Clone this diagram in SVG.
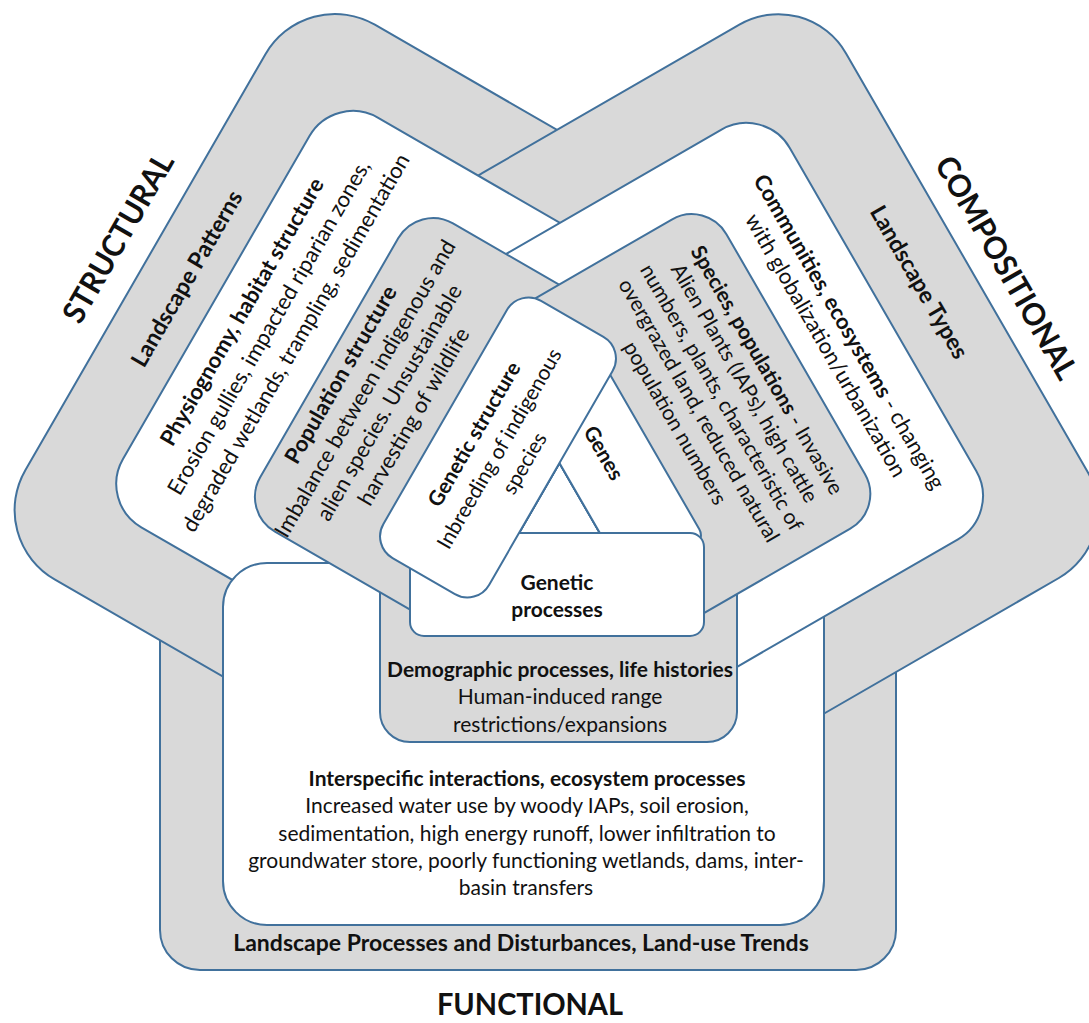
<svg xmlns="http://www.w3.org/2000/svg" width="1089" height="1023" viewBox="0 0 1089 1023">
  <style>
    .g { fill: #d9d9d9; stroke: #41719c; stroke-width: 2; }
    .w { fill: #ffffff; stroke: #41719c; stroke-width: 2; }
    text { font-family: Lato, "Liberation Sans", sans-serif; fill: #111; text-anchor: middle; }
    .b { font-weight: bold; }
    .t { font-size: 21px; }
    .r { font-size: 22px; }
    .h { font-size: 31px; font-weight: bold; }
    .l { font-size: 23px; font-weight: bold; }
  </style>
  <rect width="1089" height="1023" fill="#ffffff"/>

  <!-- Level 1: outer bands -->
  <g id="functional-landscape">
    <rect class="g" x="160" y="560" width="736" height="410" rx="40"/>
    <text class="l" x="521" y="951">Landscape Processes and Disturbances, Land-use Trends</text>
    <text class="h" x="530" y="1015" textLength="186" lengthAdjust="spacingAndGlyphs">FUNCTIONAL</text>
  </g>
  <g id="structural-landscape" transform="rotate(-60)">
    <rect class="g" x="-474.5" y="257" width="640.5" height="459" rx="80"/>
    <text class="h" x="-147" y="232" textLength="190" lengthAdjust="spacingAndGlyphs">STRUCTURAL</text>
    <text class="l" x="-148" y="309">Landscape Patterns</text>
  </g>
  <g id="compositional-landscape" transform="rotate(60)">
    <rect class="g" x="391" y="-706" width="639" height="453" rx="78"/>
    <text class="h" x="735" y="-727" textLength="252" lengthAdjust="spacingAndGlyphs">COMPOSITIONAL</text>
    <text class="l" x="704" y="-647">Landscape Types</text>
  </g>

  <!-- Level 2: communities / ecosystems -->
  <g id="structural-habitat" transform="rotate(-60)">
    <rect class="w" x="-386" y="336" width="473" height="380" rx="50"/>
    <text class="r b" x="-149" y="373">Physiognomy, habitat structure</text>
    <text class="r" x="-149" y="404">Erosion gullies, impacted riparian zones,</text>
    <text class="r" x="-149" y="435">degraded wetlands, trampling, sedimentation</text>
  </g>
  <g id="functional-ecosystem">
    <rect class="w" x="223" y="563" width="601" height="362" rx="44"/>
    <text class="t b" x="527" y="786">Interspecific interactions, ecosystem processes</text>
    <text class="t" x="527" y="813">Increased water use by woody IAPs, soil erosion,</text>
    <text class="t" x="527" y="841">sedimentation, high energy runoff, lower infiltration to</text>
    <text class="t" x="526" y="868">groundwater store, poorly functioning wetlands, dams, inter-</text>
    <text class="t" x="526" y="895">basin transfers</text>
  </g>
  <g id="compositional-communities" transform="rotate(60)">
    <rect class="w" x="473" y="-610" width="473" height="357" rx="50"/>
    <text class="r" x="712" y="-562"><tspan class="b">Communities, ecosystems</tspan> - changing</text>
    <text class="r" x="712" y="-535">with globalization/urbanization</text>
  </g>

  <!-- Level 3: species / populations -->
  <g id="functional-demographic">
    <rect class="g" x="380" y="545" width="357" height="197" rx="30"/>
    <text class="t b" x="560" y="677">Demographic processes, life histories</text>
    <text class="t" x="560" y="704">Human-induced range</text>
    <text class="t" x="560" y="732">restrictions/expansions</text>
  </g>
  <g id="structural-population" transform="rotate(-60)">
    <rect class="g" x="-323" y="464" width="356" height="252" rx="40"/>
    <text class="r b" x="-154" y="490">Population structure</text>
    <text class="r" x="-154" y="518">Imbalance between indigenous and</text>
    <text class="r" x="-154" y="546">alien species. Unsustainable</text>
    <text class="r" x="-154" y="574">harvesting of wildlife</text>
  </g>
  <g id="compositional-species" transform="rotate(60)">
    <rect class="g" x="526" y="-512" width="357" height="259" rx="40"/>
    <text class="t" x="704" y="-472"><tspan class="b">Species, populations</tspan> - Invasive</text>
    <text class="t" x="704" y="-446">Alien Plants (IAPs), high cattle</text>
    <text class="t" x="705" y="-419">numbers, plants, characteristic of</text>
    <text class="t" x="705" y="-393">overgrazed land, reduced natural</text>
    <text class="t" x="704" y="-366">population numbers</text>
  </g>

  <!-- Level 4: genes -->
  <g id="compositional-genes" transform="rotate(60)">
    <rect class="w" x="600" y="-341" width="220" height="88" rx="12"/>
    <text class="t b" x="694" y="-289">Genes</text>
  </g>
  <g id="functional-genetic">
    <rect class="w" x="410" y="533" width="294" height="103" rx="14"/>
    <text class="t b" x="557" y="590">Genetic</text>
    <text class="t b" x="557" y="617">processes</text>
  </g>
  <g id="structural-genetic" transform="rotate(-60)">
    <rect class="w" x="-287" y="594" width="297" height="122" rx="25"/>
    <text class="t b" x="-139" y="635">Genetic structure</text>
    <text class="t" x="-139" y="664">Inbreeding of indigenous</text>
    <text class="t" x="-139" y="693">species</text>
  </g>
</svg>
